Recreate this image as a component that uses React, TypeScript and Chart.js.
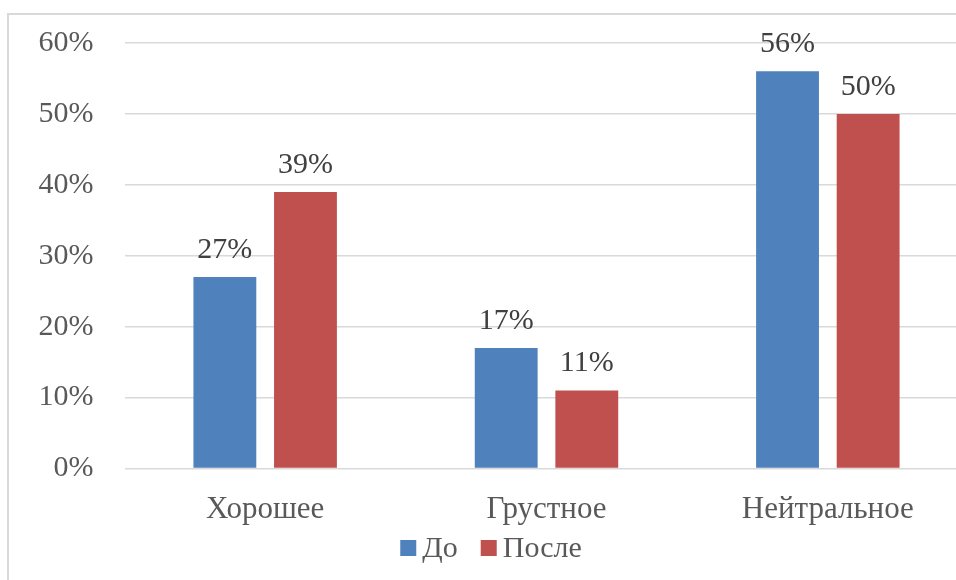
import React, { useEffect, useRef } from 'react';
import { Chart, registerables } from 'chart.js';

Chart.register(...registerables);

const categories = ['Хорошее', 'Грустное', 'Нейтральное'];
const seriesNames = ['До', 'После'];
const beforeValues = [27, 17, 56];
const afterValues = [39, 11, 50];
const seriesColors = ['#4F81BD', '#C0504D'];
const yMin = 0;
const yMax = 60;
const yStep = 10;

const FONT = '"Liberation Serif", "Times New Roman", serif';
const CANVAS_W = 982;
const CANVAS_H = 580;

const dataLabelPlugin = {
  id: 'dataLabels',
  afterDatasetsDraw(chart: any) {
    const ctx = chart.ctx;
    ctx.save();
    ctx.font = `30px ${FONT}`;
    ctx.fillStyle = '#404040';
    ctx.textAlign = 'center';
    ctx.textBaseline = 'alphabetic';
    chart.data.datasets.forEach((ds: any, i: number) => {
      const meta = chart.getDatasetMeta(i);
      meta.data.forEach((bar: any, j: number) => {
        ctx.fillText(`${ds.data[j]}%`, bar.x, bar.y - 19);
      });
    });
    ctx.restore();
  },
};

const legendPlugin = {
  id: 'customLegend',
  afterDraw(chart: any) {
    const ctx = chart.ctx;
    ctx.save();
    ctx.font = `30px ${FONT}`;
    const box = 16;
    const gapBoxText = 6;
    const gapItems = 23;
    const items = chart.data.datasets.map((ds: any) => ({
      label: ds.label,
      color: ds.backgroundColor,
      w: ctx.measureText(ds.label).width,
    }));
    let total = 0;
    items.forEach((it: any, i: number) => {
      total += box + gapBoxText + it.w + (i > 0 ? gapItems : 0);
    });
    const cx = 491;
    const cy = 548;
    let x = cx - total / 2;
    items.forEach((it: any) => {
      ctx.fillStyle = it.color;
      ctx.fillRect(x, cy - box / 2, box, box);
      x += box + gapBoxText;
      ctx.fillStyle = '#595959';
      ctx.textAlign = 'left';
      ctx.textBaseline = 'alphabetic';
      ctx.fillText(it.label, x, cy + 9);
      x += it.w + gapItems;
    });
    ctx.restore();
  },
};

export default function App() {
  const canvasRef = useRef<HTMLCanvasElement | null>(null);

  useEffect(() => {
    if (!canvasRef.current) return;
    const chart = new Chart(canvasRef.current, {
      type: 'bar',
      data: {
        labels: categories,
        datasets: [
          {
            label: seriesNames[0],
            data: beforeValues,
            backgroundColor: seriesColors[0],
            barPercentage: 0.78,
            categoryPercentage: 0.573,
          },
          {
            label: seriesNames[1],
            data: afterValues,
            backgroundColor: seriesColors[1],
            barPercentage: 0.78,
            categoryPercentage: 0.573,
          },
        ],
      },
      options: {
        responsive: false,
        animation: false,
        devicePixelRatio: 1,
        layout: {
          padding: { left: 8, right: 13.5, top: 43, bottom: 51.5 },
        },
        plugins: {
          legend: { display: false },
          tooltip: { enabled: false },
        },
        scales: {
          x: {
            grid: { display: false, drawTicks: false },
            border: { display: false },
            ticks: {
              color: '#595959',
              font: { family: FONT, size: 31 },
              padding: 23,
              maxRotation: 0,
            },
            afterFit: (scale: any) => {
              scale.height = 60;
              scale.paddingLeft = 0;
              scale.paddingRight = 0;
            },
          },
          y: {
            min: yMin,
            max: yMax,
            grid: { color: '#D9D9D9', lineWidth: 1.5, drawTicks: false },
            border: { display: false },
            ticks: {
              stepSize: yStep,
              color: '#595959',
              font: { family: FONT, size: 30 },
              padding: 31,
              callback: (v: any) => `${v}%`,
            },
            afterFit: (scale: any) => {
              scale.width = 116.5;
              scale.paddingTop = 0;
              scale.paddingBottom = 0;
            },
          },
        },
      },
      plugins: [dataLabelPlugin, legendPlugin],
    });
    return () => chart.destroy();
  }, []);

  return (
    <div
      style={{
        position: 'fixed',
        left: 0,
        top: 0,
        width: 956,
        height: 580,
        overflow: 'hidden',
        background: '#ffffff',
      }}
    >
      <div
        style={{
          position: 'absolute',
          left: 7,
          top: 12.5,
          width: 1200,
          height: 800,
          borderLeft: '2px solid #D9D9D9',
          borderTop: '2px solid #D9D9D9',
          boxSizing: 'border-box',
        }}
      />
      <canvas
        ref={canvasRef}
        width={CANVAS_W}
        height={CANVAS_H}
        style={{ position: 'absolute', left: 0, top: 0, width: CANVAS_W, height: CANVAS_H }}
      />
    </div>
  );
}
